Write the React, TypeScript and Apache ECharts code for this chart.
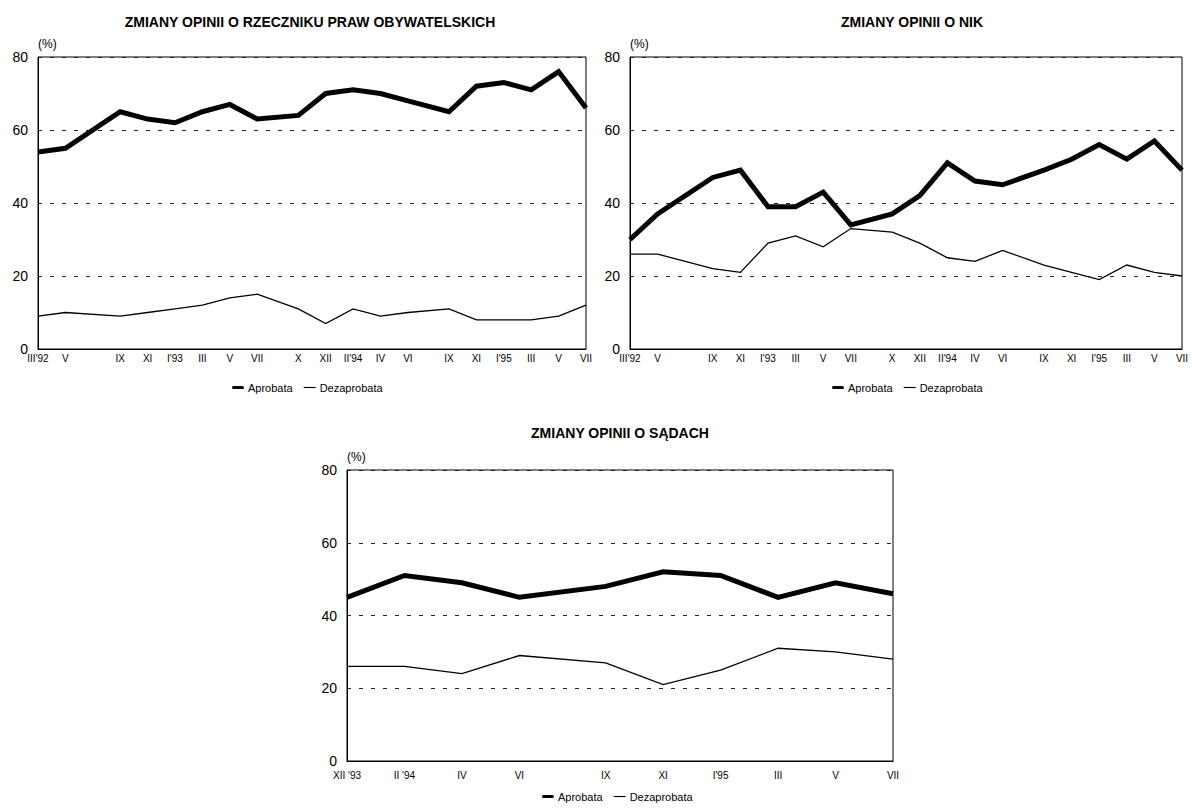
import React, { useEffect, useRef } from 'react';
import * as echarts from 'echarts';

// months since III'92 for the first two charts
const monthsAB = [0, 2, 6, 8, 10, 12, 14, 16, 19, 21, 23, 25, 27, 30, 32, 34, 36, 38, 40];
const labelsAB = ["III'92", 'V', 'IX', 'XI', "I'93", 'III', 'V', 'VII', 'X', 'XII', "II'94", 'IV', 'VI', 'IX', 'XI', "I'95", 'III', 'V', 'VII'];

const rpoAprobata = [54, 55, 65, 63, 62, 65, 67, 63, 64, 70, 71, 70, 68, 65, 72, 73, 71, 76, 66];
const rpoDezaprobata = [9, 10, 9, 10, 11, 12, 14, 15, 11, 7, 11, 9, 10, 11, 8, 8, 8, 9, 12];

const nikAprobata = [30, 37, 47, 49, 39, 39, 43, 34, 37, 42, 51, 46, 45, 49, 52, 56, 52, 57, 49];
const nikDezaprobata = [26, 26, 22, 21, 29, 31, 28, 33, 32, 29, 25, 24, 27, 23, 21, 19, 23, 21, 20];

// months since XII'93 for the third chart
const monthsC = [0, 2, 4, 6, 9, 11, 13, 15, 17, 19];
const labelsC = ["XII '93", "II '94", 'IV', 'VI', 'IX', 'XI', "I'95", 'III', 'V', 'VII'];
const sadyAprobata = [45, 51, 49, 45, 48, 52, 51, 45, 49, 46];
const sadyDezaprobata = [26, 26, 24, 29, 27, 21, 25, 31, 30, 28];

const titles = ['ZMIANY OPINII O RZECZNIKU PRAW OBYWATELSKICH', 'ZMIANY OPINII O NIK', 'ZMIANY OPINII O SĄDACH'];
const seriesNames = ['Aprobata', 'Dezaprobata'];
const yMax = 80;
const yStep = 20;

const FONT = '"Liberation Sans", Arial, sans-serif';

export default function App() {
  const ref = useRef<HTMLDivElement>(null);

  useEffect(() => {
    if (!ref.current) return;
    const chart = echarts.init(ref.current, undefined, { renderer: 'svg' });

    const grids = [
      { left: 38, top: 57, width: 548, height: 292 },
      { left: 630, top: 57, width: 552, height: 292 },
      { left: 347, top: 470, width: 546, height: 291 },
    ];
    const xDefs = [
      { months: monthsAB, labels: labelsAB, max: 40, margin: 4 },
      { months: monthsAB, labels: labelsAB, max: 40, margin: 4 },
      { months: monthsC, labels: labelsC, max: 19, margin: 9 },
    ];
    const dataSets = [
      [rpoAprobata, rpoDezaprobata],
      [nikAprobata, nikDezaprobata],
      [sadyAprobata, sadyDezaprobata],
    ];

    const xAxis = xDefs.map((d, i) => ({
      type: 'value',
      gridIndex: i,
      min: 0,
      max: d.max,
      interval: 1,
      axisLine: { show: true, onZero: false, lineStyle: { color: '#000', width: 1 } },
      axisTick: { show: false },
      splitLine: { show: false },
      axisLabel: {
        show: true,
        color: '#000',
        fontFamily: FONT,
        fontSize: 10,
        margin: d.margin,
        showMinLabel: true,
        showMaxLabel: true,
        formatter: (v: number) => {
          const idx = d.months.indexOf(v);
          return idx >= 0 ? d.labels[idx] : '';
        },
      },
    }));

    const yAxis = grids.map((_, i) => ({
      type: 'value',
      gridIndex: i,
      min: 0,
      max: yMax,
      interval: yStep,
      name: '(%)',
      nameLocation: 'end',
      nameGap: 7,
      nameTextStyle: { color: '#000', fontFamily: FONT, fontSize: 12, align: 'left' },
      axisLine: { show: true, lineStyle: { color: '#000', width: 1 } },
      axisTick: { show: false },
      axisLabel: { color: '#000', fontFamily: FONT, fontSize: 14, margin: 10 },
      splitLine: { show: true, lineStyle: { color: '#222', type: [4, 8], width: 1 } },
    }));

    const series: any[] = [];
    dataSets.forEach((ds, i) => {
      const months = xDefs[i].months;
      ds.forEach((vals, k) => {
        series.push({
          type: 'line',
          name: seriesNames[k],
          xAxisIndex: i,
          yAxisIndex: i,
          data: vals.map((v, j) => [months[j], v]),
          symbol: 'none',
          color: '#000',
          lineStyle: { color: '#000', width: k === 0 ? 5 : 1.3, join: 'miter' },
          z: k === 0 ? 3 : 2,
        });
      });
    });

    const legendData = [
      { name: 'Aprobata', icon: 'path://M2,0 H14 A2,2 0 0 1 14,4 H2 A2,2 0 0 1 2,0 Z' },
      { name: 'Dezaprobata', icon: 'path://M0,0 H14 V1.3 H0 Z' },
    ];
    const legendPos = [
      { left: 227, top: 377 },
      { left: 827, top: 377 },
      { left: 537, top: 786 },
    ];
    const legend = legendPos.map((p) => ({
      ...p,
      orient: 'horizontal',
      itemWidth: 12,
      itemHeight: 5,
      itemGap: 11,
      selectedMode: false,
      data: legendData,
      itemStyle: { color: '#000', borderWidth: 0 },
      textStyle: { color: '#000', fontFamily: FONT, fontSize: 11, padding: [0, 0, 0, -1] },
    }));

    const titlePos = [
      { x: 310, y: 22 },
      { x: 912, y: 22 },
      { x: 620, y: 433 },
    ];
    const graphic = titles.map((t, i) => ({
      type: 'text',
      x: titlePos[i].x,
      y: titlePos[i].y,
      style: {
        text: t,
        font: `bold 14px ${FONT}`,
        fill: '#000',
        textAlign: 'center',
        textVerticalAlign: 'middle',
        align: 'center',
        verticalAlign: 'middle',
      },
    }));

    chart.setOption({
      animation: false,
      backgroundColor: '#fff',
      grid: grids.map((g) => ({ ...g, show: true, borderColor: '#000', borderWidth: 1, backgroundColor: 'transparent' })),
      xAxis,
      yAxis,
      legend,
      graphic,
      series,
    });

    return () => chart.dispose();
  }, []);

  return (
    <div
      ref={ref}
      style={{ position: 'absolute', left: 0, top: 0, width: 1192, height: 808, background: '#fff' }}
    />
  );
}
